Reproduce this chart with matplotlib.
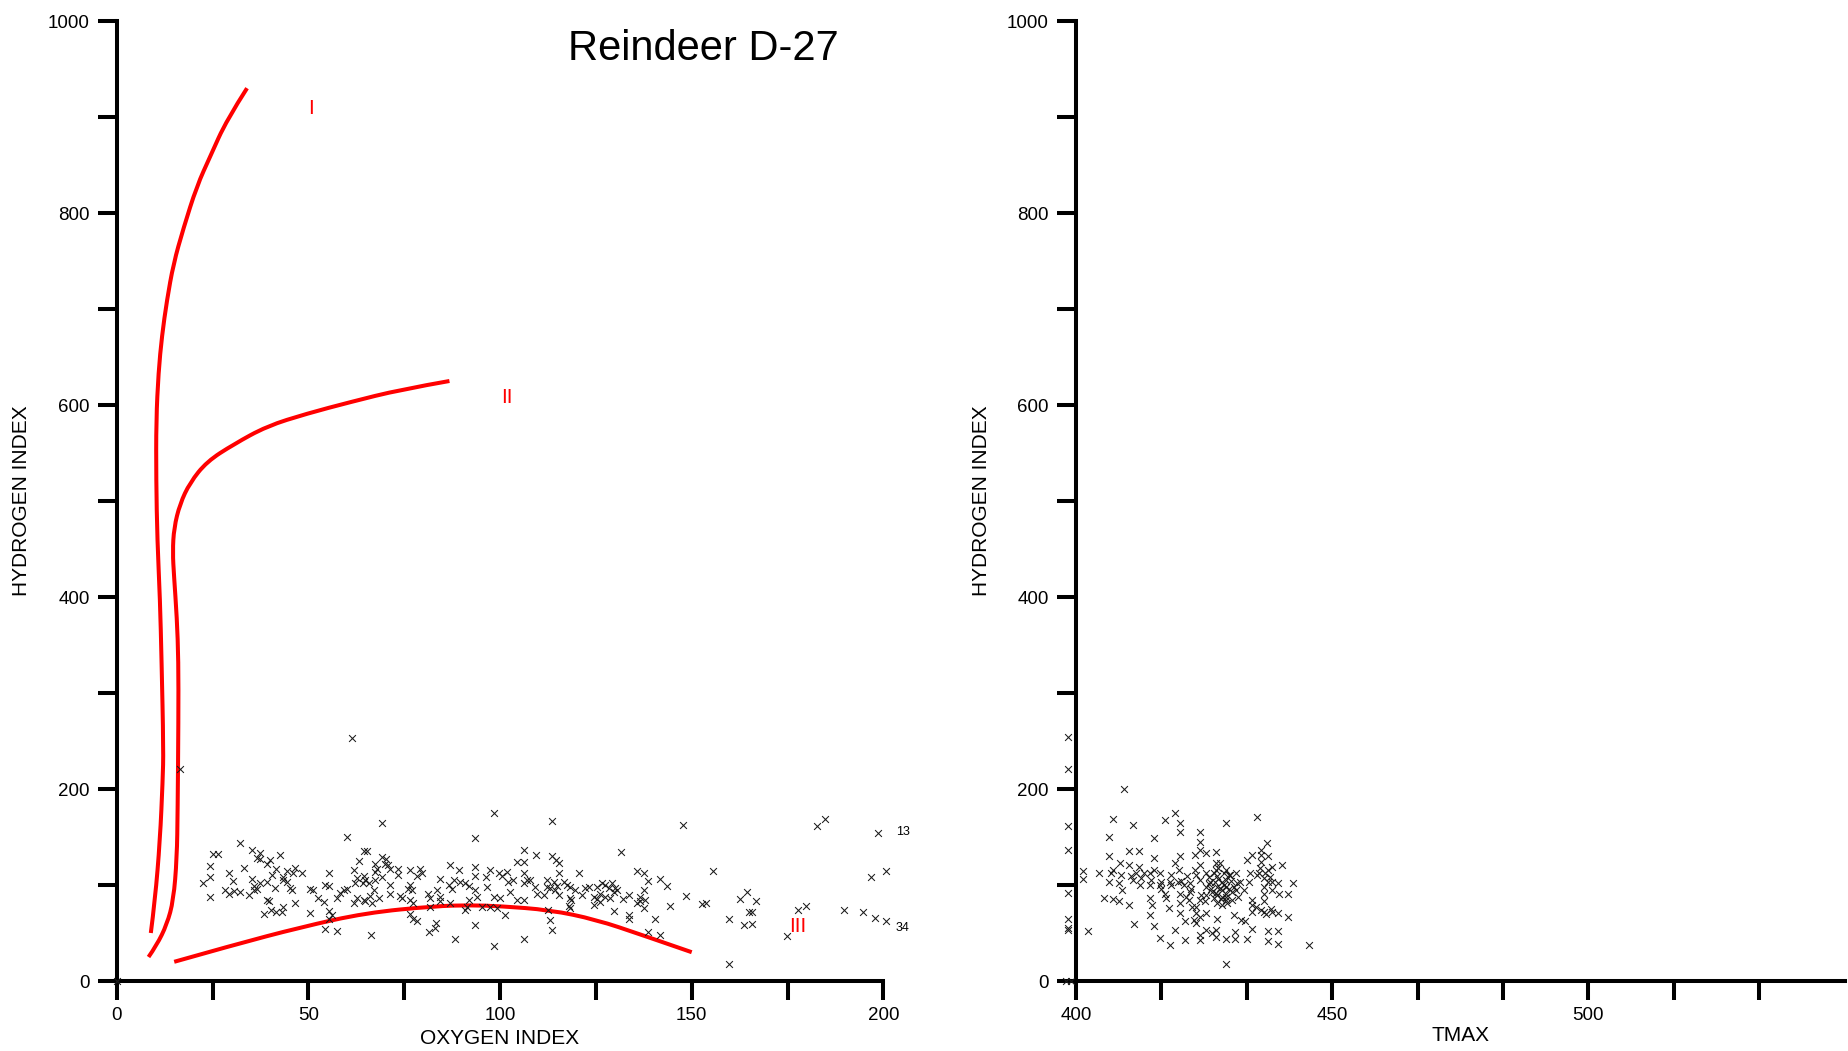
import numpy as np
import matplotlib
matplotlib.use("Agg")
import matplotlib.pyplot as plt
from matplotlib.path import Path
from matplotlib.patches import PathPatch

plt.rcParams['font.family'] = ['Liberation Sans', 'DejaVu Sans']

# ---- scatter: oxygen index vs hydrogen index ----
oxygen_index = [
    32.2, 25.2, 26.4, 35.4, 37.4, 36.7, 37.4, 42.5, 40.0, 39.3,
    24.4, 33.3, 29.3, 41.5, 44.4, 46.6, 48.3, 46.1, 40.5, 55.4,
    24.4, 22.4, 30.3, 35.2, 37.4, 39.3, 43.5, 43.3, 44.4, 28.3,
    29.4, 30.5, 32.2, 34.4, 35.7, 36.6, 35.9, 41.3, 45.3, 45.7,
    50.5, 51.3, 54.4, 55.4, 24.4, 39.2, 39.6, 46.4, 52.4, 54.2,
    57.4, 58.3, 59.2, 60.0, 38.3, 40.3, 41.6, 43.1, 43.5, 50.3,
    55.4, 56.1, 55.4, 54.4, 57.4, 60.2, 16.5, 61.4, 0.0, 69.3,
    98.5, 93.4, 106.3, 109.5, 64.6, 65.4, 63.3, 69.3, 70.2, 69.9,
    70.7, 71.2, 67.4, 67.9, 67.4, 61.9, 62.8, 64.4, 64.8, 64.2,
    65.7, 62.2, 67.4, 69.2, 71.3, 73.5, 73.5, 76.4, 79.2, 78.3,
    79.6, 76.4, 76.1, 77.0, 71.3, 73.8, 74.4, 68.3, 67.0, 66.1,
    64.4, 62.6, 61.8, 64.8, 66.6, 76.6, 77.4, 81.1, 81.8, 83.5,
    84.4, 84.4, 87.0, 89.2, 89.6, 87.9, 86.6, 87.4, 90.9, 91.8,
    93.5, 93.5, 93.5, 91.8, 90.9, 94.0, 96.6, 97.5, 96.4, 99.6,
    100.5, 101.8, 102.2, 103.5, 102.7, 104.4, 106.2, 106.3, 106.3, 107.0,
    107.9, 109.2, 109.6, 111.4, 112.3, 112.3, 104.4, 106.2, 100.1, 98.3,
    97.5, 99.2, 101.4, 95.3, 91.4, 87.0, 76.6, 77.4, 78.3, 81.4,
    83.3, 83.1, 88.3, 93.5, 98.5, 106.3, 66.3, 112.4, 81.8, 84.4,
    113.5, 147.7, 131.6, 113.5, 114.7, 115.5, 115.5, 120.5, 135.6, 137.6,
    138.5, 141.6, 143.6, 155.6, 114.0, 113.1, 114.4, 115.3, 116.6, 117.5,
    118.3, 119.6, 121.4, 122.2, 123.1, 125.3, 126.6, 127.5, 128.3, 129.2,
    130.1, 130.5, 126.2, 127.5, 128.8, 129.6, 124.4, 125.3, 118.3, 118.5,
    117.9, 118.3, 124.4, 126.2, 129.6, 132.2, 133.6, 136.4, 137.5, 137.9,
    136.6, 135.7, 137.5, 133.6, 133.6, 140.5, 144.4, 148.6, 152.7, 153.6,
    138.5, 141.6, 159.7, 162.5, 164.5, 163.6, 164.9, 113.1, 113.5, 114.8,
    159.7, 166.8, 165.8, 165.8, 174.8, 177.7, 179.7, 182.8, 184.7, 189.7,
    194.8, 197.8, 200.8, 196.7, 200.8, 198.7,
]
hydrogen_index = [
    144, 132, 132, 136, 133, 128, 127, 131, 126, 122,
    120, 118, 113, 117, 115, 118, 113, 112, 110, 113,
    108, 102, 104, 106, 102, 103, 108, 105, 103, 95,
    91, 94, 93, 90, 95, 96, 99, 97, 97, 95,
    96, 95, 100, 99, 88, 84, 83, 81, 86, 82,
    86, 92, 95, 96, 70, 74, 72, 72, 77, 71,
    73, 69, 65, 54, 52, 150, 221, 253, 0, 165,
    175, 149, 136, 131, 135, 135, 125, 129, 127, 122,
    121, 117, 122, 117, 114, 116, 107, 109, 105, 102,
    102, 102, 105, 108, 100, 117, 110, 116, 117, 109,
    112, 100, 96, 95, 91, 89, 86, 86, 95, 89,
    84, 86, 81, 83, 81, 84, 81, 91, 86, 95,
    106, 88, 121, 116, 103, 105, 100, 96, 102, 99,
    119, 109, 95, 84, 74, 88, 98, 116, 108, 112,
    109, 114, 103, 105, 93, 124, 124, 112, 102, 105,
    105, 98, 91, 90, 98, 105, 84, 84, 86, 88,
    77, 76, 69, 77, 77, 81, 70, 65, 62, 51,
    60, 55, 44, 58, 36, 44, 48, 74, 77, 83,
    167, 163, 134, 130, 126, 123, 112, 113, 115, 112,
    104, 106, 99, 115, 103, 97, 95, 90, 103, 100,
    98, 95, 90, 97, 98, 98, 102, 100, 97, 102,
    97, 95, 91, 88, 86, 93, 88, 85, 86, 84,
    78, 76, 79, 82, 73, 85, 90, 88, 95, 84,
    83, 81, 76, 69, 65, 65, 78, 89, 80, 81,
    51, 48, 65, 85, 93, 58, 72, 64, 53, 99,
    18, 83, 72, 59, 47, 74, 78, 161, 169, 74,
    72, 66, 63, 108, 115, 154,
]

# ---- scatter: tmax vs hydrogen index ----
tmax = [
    398.5, 398.5, 398.5, 398.5, 398.5, 398.5, 398.5, 398.5, 398.0, 399.0,
    401.3, 401.3, 402.4, 404.4, 405.4, 406.4, 406.4, 406.4, 407.3, 407.3,
    408.3, 408.3, 407.3, 408.6, 409.3, 408.9, 410.4, 410.4, 410.4, 411.2,
    411.3, 411.2, 411.8, 412.3, 412.3, 413.2, 412.5, 414.5, 414.5, 415.3,
    415.3, 415.3, 414.4, 414.8, 414.5, 415.3, 416.3, 416.3, 416.4, 417.4,
    417.4, 418.1, 418.3, 418.4, 419.3, 420.3, 420.3, 419.3, 420.3, 420.2,
    420.0, 421.0, 420.3, 420.3, 420.3, 421.3, 421.3, 419.3, 421.6, 422.3,
    422.3, 422.0, 422.6, 423.3, 423.3, 423.5, 423.5, 424.3, 424.3, 424.3,
    424.3, 424.3, 424.3, 424.3, 424.3, 424.3, 425.4, 425.4, 425.4, 425.2,
    425.3, 425.4, 426.2, 426.5, 426.5, 427.3, 427.3, 427.4, 427.5, 427.5,
    427.5, 427.5, 427.5, 427.3, 427.3, 428.2, 428.4, 428.4, 428.4, 428.4,
    429.3, 429.3, 429.3, 429.3, 429.3, 429.3, 429.3, 429.3, 430.1, 430.4,
    430.4, 430.8, 431.3, 431.4, 431.3, 431.1, 431.1, 432.1, 432.3, 433.0,
    433.3, 433.3, 434.0, 434.3, 434.3, 434.3, 434.3, 434.3, 435.3, 435.3,
    435.7, 436.2, 436.2, 436.2, 436.6, 436.6, 436.6, 436.6, 436.6, 437.2,
    437.4, 437.4, 437.4, 437.4, 437.4, 438.2, 438.2, 438.2, 438.2, 439.4,
    439.4, 439.4, 439.4, 439.6, 440.3, 441.3, 441.3, 442.3, 445.4,
    425.9, 426.9, 427.8, 428.8, 429.8, 426.4, 427.4, 428.3, 429.3, 430.3,
    425.4, 426.9, 427.8, 428.8, 429.8, 430.8, 425.9, 428.1, 427.2, 429.5,
    431.7, 432.7, 433.7, 435.9, 436.9, 437.9, 435.2, 436.1, 437.1, 438.1,
    421.5, 422.5, 423.4, 420.5, 418.6, 416.6, 417.6, 424.4, 423.4, 423.0,
    406.8, 408.8, 410.7, 412.7, 414.7, 416.6, 418.6,
]
tmax_hi = [
    254, 221, 161, 136, 92, 65, 55, 53, 0, 0,
    115, 106, 52, 112, 86, 150, 130, 103, 169, 85,
    83, 102, 116, 123, 200, 95, 135, 121, 79, 163,
    59, 105, 112, 135, 119, 112, 100, 112, 100, 149,
    128, 116, 86, 79, 69, 57, 45, 100, 112, 168,
    91, 76, 37, 103, 175, 165, 155, 123, 130, 116,
    103, 100, 91, 81, 71, 62, 43, 53, 109, 102,
    93, 84, 77, 131, 116, 71, 60, 155, 145, 136,
    121, 105, 84, 67, 48, 43, 133, 112, 98, 83,
    71, 53, 103, 93, 50, 134, 123, 116, 109, 98,
    90, 81, 65, 53, 46, 123, 103, 95, 88, 79,
    165, 116, 105, 98, 91, 84, 44, 18, 110, 93,
    84, 69, 112, 102, 95, 51, 44, 103, 64, 62,
    126, 44, 112, 131, 84, 79, 72, 54, 171, 110,
    112, 136, 131, 124, 107, 98, 91, 83, 72, 144,
    130, 116, 103, 52, 42, 119, 103, 95, 72, 102,
    71, 52, 39, 91, 121, 91, 67, 102, 37,
    108, 112, 106, 100, 96, 96, 92, 85, 88, 104,
    90, 86, 118, 112, 110, 98, 101, 97, 103, 81,
    88, 95, 103, 118, 112, 108, 77, 74, 70, 75,
    88, 96, 110, 104, 110, 96, 86, 90, 77, 64,
    112, 110, 109, 107, 105, 103, 100,
]

# ---- kerogen type boundary curves ----
type1_oi = [8.9, 10.0, 11.3, 12.0, 12.2, 11.7, 11.3, 10.6, 10.3, 10.3,
            10.9, 11.8, 13.1, 14.8, 17.4, 20.9, 24.4, 28.7, 34.0]
type1_hi = [50, 84, 147, 209, 241, 334, 397, 459, 522, 584,
            634, 672, 709, 747, 784, 828, 859, 897, 930]
type2_oi = [8.3, 10.4, 13.1, 14.8, 15.7, 15.9, 16.1, 16.1, 15.7, 14.95,
            14.6, 14.95, 16.5, 19.1, 23.5, 30.5, 39.2, 49.6, 60.9, 74.0, 86.8]
type2_hi = [25, 37, 59, 84, 128, 178, 272, 334, 378, 422,
            447, 472, 497, 519, 541, 559, 578, 591, 603, 616, 625]
type3_oi = [15, 30, 48, 65, 83, 92, 100, 113, 125, 137, 150]
type3_hi = [20, 37, 56, 71, 78, 79, 78, 74, 64, 48, 30]

curve_labels = ["I", "II", "III"]
curve_label_oi = [50.7, 101.7, 177.6]
curve_label_hi = [909, 608, 57]

fig = plt.figure(figsize=(18.49, 10.51), dpi=100)
ax1 = fig.add_axes([116.7 / 1849, 70 / 1051, 766.7 / 1849, 960 / 1051])
ax2 = fig.add_axes([1076 / 1849, 70 / 1051, 768.5 / 1849, 960 / 1051])


def style_axes(ax, xticks, xlabels):
    for side in ("top", "right"):
        ax.spines[side].set_visible(False)
    for side in ("left", "bottom"):
        ax.spines[side].set_linewidth(2.9)
        ax.spines[side].set_capstyle("projecting")
    ax.set_ylim(0, 1000)
    ax.set_yticks(np.arange(0, 1001, 100))
    ax.set_yticklabels([str(v) if v % 200 == 0 else "" for v in range(0, 1001, 100)])
    ax.set_xticks(xticks)
    ax.set_xticklabels(xlabels)
    ax.tick_params(direction="out", length=13.5, width=2.9, labelsize=13.5,
                   color="black")
    ax.tick_params(axis="x", pad=5)
    ax.tick_params(axis="y", pad=6)


def smooth_curve(ax, xs, ys):
    # quadratic bezier through traced points (midpoint smoothing)
    pts = list(zip(xs, ys))
    verts = [pts[0]]
    codes = [Path.MOVETO]
    for i in range(1, len(pts) - 2):
        mid = ((pts[i][0] + pts[i + 1][0]) / 2, (pts[i][1] + pts[i + 1][1]) / 2)
        verts += [pts[i], mid]
        codes += [Path.CURVE3, Path.CURVE3]
    verts += [pts[-2], pts[-1]]
    codes += [Path.CURVE3, Path.CURVE3]
    ax.add_patch(PathPatch(Path(verts, codes), fill=False, edgecolor="#ff0000",
                           lw=2.9, capstyle="butt"))


# left: HI vs OI
ax1.set_xlim(0, 200)
style_axes(ax1, np.arange(0, 201, 25),
           [str(v) if v % 50 == 0 else "" for v in range(0, 201, 25)])
for xs, ys in [(type1_oi, type1_hi), (type2_oi, type2_hi), (type3_oi, type3_hi)]:
    smooth_curve(ax1, xs, ys)
ax1.scatter(oxygen_index, hydrogen_index, marker="x", s=24, c="#1a1a1a",
            linewidths=0.75, clip_on=False, zorder=3)
for lab, x, y in zip(curve_labels, curve_label_oi, curve_label_hi):
    ax1.text(x, y, lab, color="#ff0000", fontsize=15, ha="center", va="center")
ax1.text(205, 155, "13", fontsize=9, ha="center", va="center")
ax1.text(205, 55, "34", fontsize=9, ha="center", va="center")
ax1.set_xlabel("OXYGEN INDEX", fontsize=15)
ax1.xaxis.set_label_coords(0.5, -0.05)
ax1.set_ylabel("HYDROGEN INDEX", fontsize=15)
ax1.yaxis.set_label_coords(-0.112, 0.5)

# right: HI vs Tmax
ax2.set_xlim(400, 550)
tm_ticks = 400 + np.arange(9) * 50 / 3
style_axes(ax2, tm_ticks, ["400", "", "", "450", "", "", "500", "", ""])
ax2.scatter(tmax, tmax_hi, marker="x", s=24, c="#1a1a1a",
            linewidths=0.75, clip_on=False, zorder=3)
ax2.set_xlabel("TMAX", fontsize=15)
ax2.xaxis.set_label_coords(0.5, -0.047)
ax2.set_ylabel("HYDROGEN INDEX", fontsize=15)
ax2.yaxis.set_label_coords(-0.11, 0.5)

fig.text(703 / 1849, 1 - 60 / 1051, "Reindeer D-27", fontsize=30,
         ha="center", va="baseline")

fig.savefig("out.png", dpi=100)
